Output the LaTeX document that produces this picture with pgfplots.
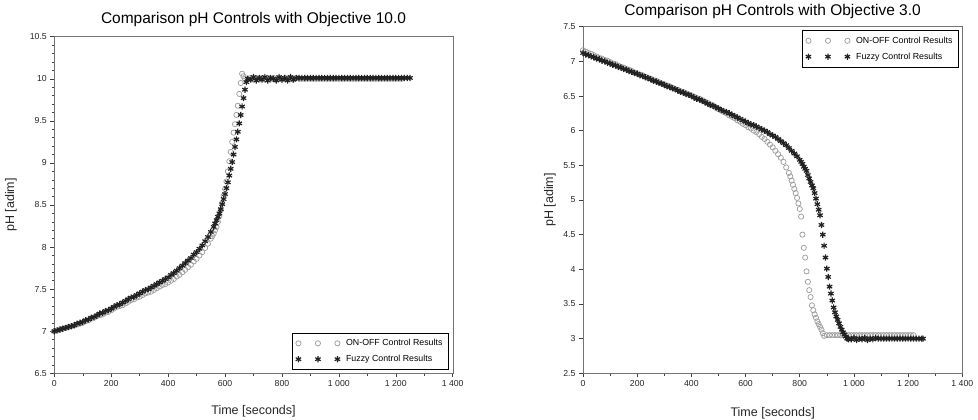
\documentclass[border=0pt]{standalone}
\usepackage{fontspec}
\setmainfont{Liberation Sans}
\usepackage{pgfplots}
\pgfplotsset{compat=1.18}

\definecolor{onoff}{gray}{0.62}
\definecolor{fuzzy}{gray}{0.13}

\pgfplotsset{
  phaxis/.style={
    scale only axis, anchor=south west, clip=false,
    xmin=0, xmax=1400, xtick={0,200,...,1400}, minor x tick num=1,
    tick align=outside, xtick pos=bottom, ytick pos=left,
    major tick length=4pt, minor tick length=2.5pt,
    axis line style={black!55}, tick style={black!75, line width=0.5pt},
    ticklabel style={font=\fontsize{8.7}{10}\selectfont, text=black!85},
    /pgf/number format/assume math mode=true,
    /pgf/number format/1000 sep={\ },
    label style={font=\fontsize{12.5}{14}\selectfont, text=black!85},
    xlabel={Time [seconds]}, ylabel={pH [adim]},
    legend cell align=left,
    legend style={draw=black, line width=0.7pt, font=\fontsize{8.8}{10}\selectfont,
      inner xsep=3.5pt, inner ysep=4.5pt, row sep=4pt,
      /tikz/every odd column/.append style={column sep=4pt}},
    legend image code/.code={\draw[#1, mark repeat=1, mark phase=1] plot coordinates {(0pt,0pt) (19.5pt,0pt) (39pt,0pt)};},
  },
  onoffmarks/.style={only marks, mark=o, mark size=2.6pt, draw=onoff, line width=0.75pt},
  fuzzymarks/.style={only marks, mark=asterisk, mark size=3.1pt, draw=fuzzy, line width=1.2pt},
}

\begin{document}
\begin{tikzpicture}
\useasboundingbox (0,0) rectangle (978pt,420pt);

% objective 10.0
\begin{axis}[phaxis,
    at={(54.3pt,46.7pt)}, width=398.4pt, height=336.6pt,
    ymin=6.5, ymax=10.5, ytick={6.5,7,...,10.5}, minor y tick num=4,
    title={Comparison pH Controls with Objective 10.0},
    title style={font=\fontsize{15.5}{18}\selectfont, at={(0.5,1)}, anchor=base, yshift=7pt},
    xlabel style={at={(axis description cs:0.5,-0.112)}, anchor=center},
    ylabel style={at={(axis description cs:-0.109,0.5)}, anchor=center},
    legend style={at={(1,0)}, anchor=south east, xshift=-4.4pt, yshift=3.3pt},
]
\addplot[onoffmarks] coordinates {
(0,7.00) (10,7.01) (20,7.02) (30,7.03) (40,7.04) (50,7.05) (60,7.06) (70,7.07) (80,7.08) (90,7.09)
(100,7.10) (110,7.12) (120,7.13) (130,7.15) (140,7.16) (150,7.18) (160,7.19) (170,7.20) (180,7.22) (190,7.23)
(200,7.25) (210,7.27) (220,7.29) (230,7.30) (240,7.31) (250,7.33) (260,7.35) (270,7.37) (280,7.38) (290,7.40)
(300,7.41) (310,7.43) (320,7.45) (330,7.46) (340,7.47) (350,7.49) (360,7.51) (370,7.53) (380,7.55) (390,7.56)
(400,7.58) (410,7.60) (420,7.62) (430,7.65) (440,7.67) (450,7.70) (460,7.73) (470,7.76) (480,7.79) (490,7.83)
(500,7.86) (510,7.90) (520,7.94) (530,7.99) (540,8.04) (550,8.10)
(555,8.13) (560,8.16) (565,8.20) (570,8.24) (575,8.30) (580,8.37) (585,8.44) (590,8.52) (595,8.61) (600,8.69)
(605,8.78) (610,8.90) (615,9.02) (620,9.13) (625,9.25) (630,9.36) (635,9.46) (640,9.57) (645,9.68) (650,9.82)
(655,9.95) (660,10.06) (665,10.03) (670,10.00)
(680,9.99) (690,10.01) (700,9.99) (710,10.01) (720,9.99) (730,10.01) (740,9.99) (750,10.01) (760,9.99) (770,10.01)
(780,9.99) (790,10.01) (800,9.99) (810,10.01) (820,9.99) (830,10.01) (840,9.99) (850,10.01) (860,10.00) (870,10.00)
(880,10.00) (890,10.00) (900,10.00) (910,10.00) (920,10.00) (930,10.00) (940,10.00) (950,10.00) (960,10.00) (970,10.00)
(980,10.00) (990,10.00) (1000,10.00) (1010,10.00) (1020,10.00) (1030,10.00) (1040,10.00) (1050,10.00) (1060,10.00) (1070,10.00)
(1080,10.00) (1090,10.00) (1100,10.00) (1110,10.00) (1120,10.00) (1130,10.00) (1140,10.00) (1150,10.00) (1160,10.00) (1170,10.00)
(1180,10.00) (1190,10.00) (1200,10.00) (1210,10.00) (1220,10.00)
};
\addlegendentry{ON-OFF Control Results}
\addplot[fuzzymarks] coordinates {
(0,7.00) (10,7.01) (20,7.02) (30,7.03) (40,7.04) (50,7.05) (60,7.06) (70,7.07) (80,7.09) (90,7.10)
(100,7.11) (110,7.13) (120,7.14) (130,7.16) (140,7.17) (150,7.19) (160,7.21) (170,7.22) (180,7.24) (190,7.25)
(200,7.27) (210,7.29) (220,7.31) (230,7.32) (240,7.34) (250,7.36) (260,7.38) (270,7.40) (280,7.41) (290,7.43)
(300,7.45) (310,7.47) (320,7.49) (330,7.50) (340,7.52) (350,7.54) (360,7.56) (370,7.58) (380,7.60) (390,7.62)
(400,7.64) (410,7.67) (420,7.69) (430,7.72) (440,7.75) (450,7.78) (460,7.81) (470,7.84) (480,7.87) (490,7.91)
(500,7.94) (510,7.98) (520,8.02) (530,8.07) (540,8.12) (550,8.18) (560,8.24)
(565,8.28) (570,8.32) (575,8.36) (580,8.40) (585,8.45) (590,8.51) (595,8.57) (600,8.63) (605,8.70) (610,8.77)
(615,8.85) (620,8.93) (625,9.01) (630,9.10) (635,9.19) (640,9.28) (645,9.37) (650,9.47) (655,9.57) (660,9.67)
(665,9.77) (670,9.87) (675,9.96) (680,10.00)
(690,9.99) (700,10.02) (710,9.98) (720,10.01) (730,9.99) (740,10.02) (750,9.98) (760,10.01) (770,10.00) (780,9.98)
(790,10.02) (800,9.99) (810,10.01) (820,9.98) (830,10.02) (840,9.99) (850,10.01) (860,10.01) (870,10.01) (880,10.01)
(890,10.01) (900,10.01) (910,10.01) (920,10.01) (930,10.01) (940,10.01) (950,10.01) (960,10.01) (970,10.01) (980,10.01)
(990,10.01) (1000,10.01) (1010,10.01) (1020,10.01) (1030,10.01) (1040,10.01) (1050,10.01) (1060,10.01) (1070,10.01) (1080,10.01)
(1090,10.01) (1100,10.01) (1110,10.01) (1120,10.01) (1130,10.01) (1140,10.01) (1150,10.01) (1160,10.01) (1170,10.01) (1180,10.01)
(1190,10.01) (1200,10.01) (1210,10.01) (1220,10.01) (1230,10.01) (1240,10.01) (1250,10.01)
};
\addlegendentry{Fuzzy Control Results}
\end{axis}

% objective 3.0
\begin{axis}[phaxis,
    at={(583pt,46.7pt)}, width=379.3pt, height=346.6pt,
    ymin=2.5, ymax=7.5, ytick={2.5,3,...,7.5},
    title={Comparison pH Controls with Objective 3.0},
    title style={font=\fontsize{15.5}{18}\selectfont, at={(0.5,1)}, anchor=base, yshift=5pt},
    xlabel style={at={(axis description cs:0.5,-0.114)}, anchor=center},
    ylabel style={at={(axis description cs:-0.087,0.5)}, anchor=center},
    legend style={at={(1,1)}, anchor=north east, xshift=-4pt, yshift=-3.3pt},
]
\addplot[onoffmarks] coordinates {
(0,7.16) (10,7.14) (20,7.12) (30,7.11) (40,7.09) (50,7.07) (60,7.05) (70,7.04) (80,7.02) (90,7.01)
(100,6.99) (110,6.97) (120,6.96) (130,6.94) (140,6.92) (150,6.91) (160,6.89) (170,6.88) (180,6.86) (190,6.84)
(200,6.83) (210,6.81) (220,6.80) (230,6.78) (240,6.76) (250,6.75) (260,6.73) (270,6.72) (280,6.70) (290,6.68)
(300,6.67) (310,6.65) (320,6.64) (330,6.62) (340,6.60) (350,6.59) (360,6.57) (370,6.56) (380,6.54) (390,6.52)
(400,6.51) (410,6.49) (420,6.47) (430,6.46) (440,6.44) (450,6.42) (460,6.40) (470,6.38) (480,6.36) (490,6.33)
(500,6.31) (510,6.29) (520,6.27) (530,6.25) (540,6.22) (550,6.20) (560,6.18) (570,6.15) (580,6.13) (590,6.10)
(600,6.08) (610,6.05) (620,6.03) (630,6.00) (640,5.98) (650,5.95) (660,5.91) (670,5.88) (680,5.84) (690,5.80)
(700,5.76) (710,5.71) (720,5.66) (730,5.61) (740,5.55) (750,5.47) (760,5.39)
(765,5.34) (770,5.28) (775,5.22) (780,5.16) (785,5.10) (790,5.03) (795,4.95) (800,4.87) (805,4.76) (810,4.50)
(815,4.31) (820,4.17) (825,3.97) (830,3.82) (835,3.70) (840,3.60) (845,3.48) (850,3.41) (855,3.35) (860,3.30)
(865,3.25) (870,3.21) (875,3.17) (880,3.13) (885,3.08) (890,3.04)
(900,3.05) (910,3.05) (920,3.05) (930,3.05) (940,3.05) (950,3.05) (960,3.05) (970,3.05) (980,3.05) (990,3.05)
(1000,3.05) (1010,3.05) (1020,3.05) (1030,3.05) (1040,3.05) (1050,3.05) (1060,3.05) (1070,3.05) (1080,3.05) (1090,3.05)
(1100,3.05) (1110,3.05) (1120,3.05) (1130,3.05) (1140,3.05) (1150,3.05) (1160,3.05) (1170,3.05) (1180,3.05) (1190,3.05)
(1200,3.05) (1210,3.05) (1220,3.05)
};
\addlegendentry{ON-OFF Control Results}
\addplot[fuzzymarks] coordinates {
(0,7.12) (10,7.10) (20,7.09) (30,7.07) (40,7.06) (50,7.04) (60,7.03) (70,7.01) (80,7.00) (90,6.98)
(100,6.97) (110,6.95) (120,6.94) (130,6.92) (140,6.91) (150,6.89) (160,6.88) (170,6.86) (180,6.85) (190,6.83)
(200,6.82) (210,6.80) (220,6.79) (230,6.77) (240,6.76) (250,6.74) (260,6.72) (270,6.71) (280,6.69) (290,6.68)
(300,6.66) (310,6.64) (320,6.63) (330,6.61) (340,6.60) (350,6.58) (360,6.56) (370,6.55) (380,6.53) (390,6.52)
(400,6.50) (410,6.48) (420,6.46) (430,6.45) (440,6.43) (450,6.41) (460,6.39) (470,6.37) (480,6.36) (490,6.34)
(500,6.32) (510,6.30) (520,6.28) (530,6.27) (540,6.25) (550,6.23) (560,6.21) (570,6.19) (580,6.17) (590,6.15)
(600,6.13) (610,6.11) (620,6.09) (630,6.08) (640,6.06) (650,6.04) (660,6.02) (670,6.00) (680,5.98) (690,5.95)
(700,5.93) (710,5.91) (720,5.88) (730,5.85) (740,5.82) (750,5.79) (760,5.75) (770,5.71) (780,5.67) (790,5.63)
(800,5.58) (805,5.55) (810,5.52) (815,5.48) (820,5.45) (825,5.42) (830,5.36) (835,5.31) (840,5.26) (845,5.21)
(850,5.17) (855,5.10) (860,5.02) (865,4.94) (870,4.86) (875,4.78) (880,4.64) (885,4.50) (890,4.34) (895,4.17)
(900,4.01) (905,3.89) (910,3.75) (915,3.65) (920,3.55) (925,3.45) (930,3.38) (935,3.32) (940,3.27) (945,3.22)
(950,3.17) (955,3.13) (960,3.09) (965,3.06) (970,3.03) (975,3.00) (980,2.99)
(990,2.99) (1000,3.01) (1010,2.98) (1020,3.00) (1030,2.99) (1040,3.01) (1050,2.98) (1060,3.00) (1070,2.99) (1080,3.01)
(1090,3.00) (1100,3.00) (1110,3.00) (1120,3.00) (1130,3.00) (1140,3.00) (1150,3.00) (1160,3.00) (1170,3.00) (1180,3.00)
(1190,3.00) (1200,3.00) (1210,3.00) (1220,3.00) (1230,3.00) (1240,3.00) (1250,3.00) (1255,3.00)
};
\addlegendentry{Fuzzy Control Results}
\end{axis}
\end{tikzpicture}
\end{document}
